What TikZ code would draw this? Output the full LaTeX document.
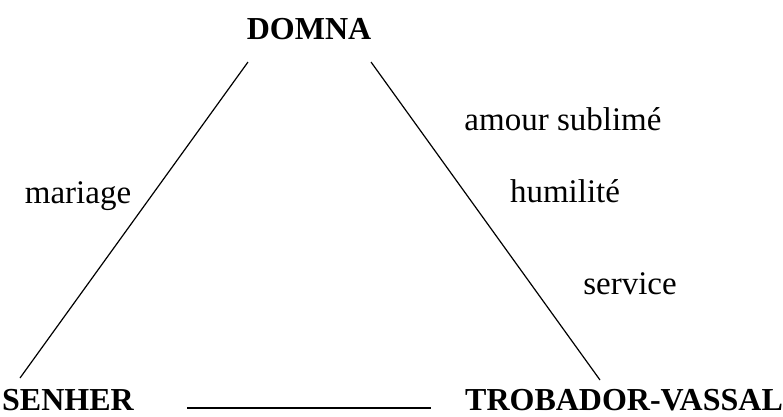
\documentclass[tikz,border=0pt]{standalone}
\usepackage{fontspec}
\setmainfont{Liberation Serif}
\begin{document}
\begin{tikzpicture}[x=1pt,y=-1pt,
  lbl/.style={inner sep=0pt,anchor=base,font=\fontsize{33}{38}\selectfont},
  role/.style={inner sep=0pt,anchor=base,font=\fontsize{32}{38}\selectfont\bfseries},
  link/.style={line width=1.2pt}]
\useasboundingbox (0,0) rectangle (783,416);
\node[role] (domna) at (309,39) {DOMNA};
\node[role] (senher) at (68,410) {SENHER};
\node[role] (trob) at (624,410) {TROBADOR-VASSAL};
\node[lbl] (mariage) at (78,203) {mariage};
\node[lbl] (amour) at (563,130) {amour sublimé};
\node[lbl] (humil) at (565,202) {humilité};
\node[lbl] (serv) at (630,294) {service};
\coordinate (dl) at (248,62);
\coordinate (sl) at (20,378);
\coordinate (dr) at (371,62);
\coordinate (tr) at (600,380);
\coordinate (bl) at (187,408);
\coordinate (br) at (431,408);
\draw[link] (dl) -- (sl);
\draw[link] (dr) -- (tr);
\draw[link] (bl) -- (br);
\end{tikzpicture}
\end{document}
